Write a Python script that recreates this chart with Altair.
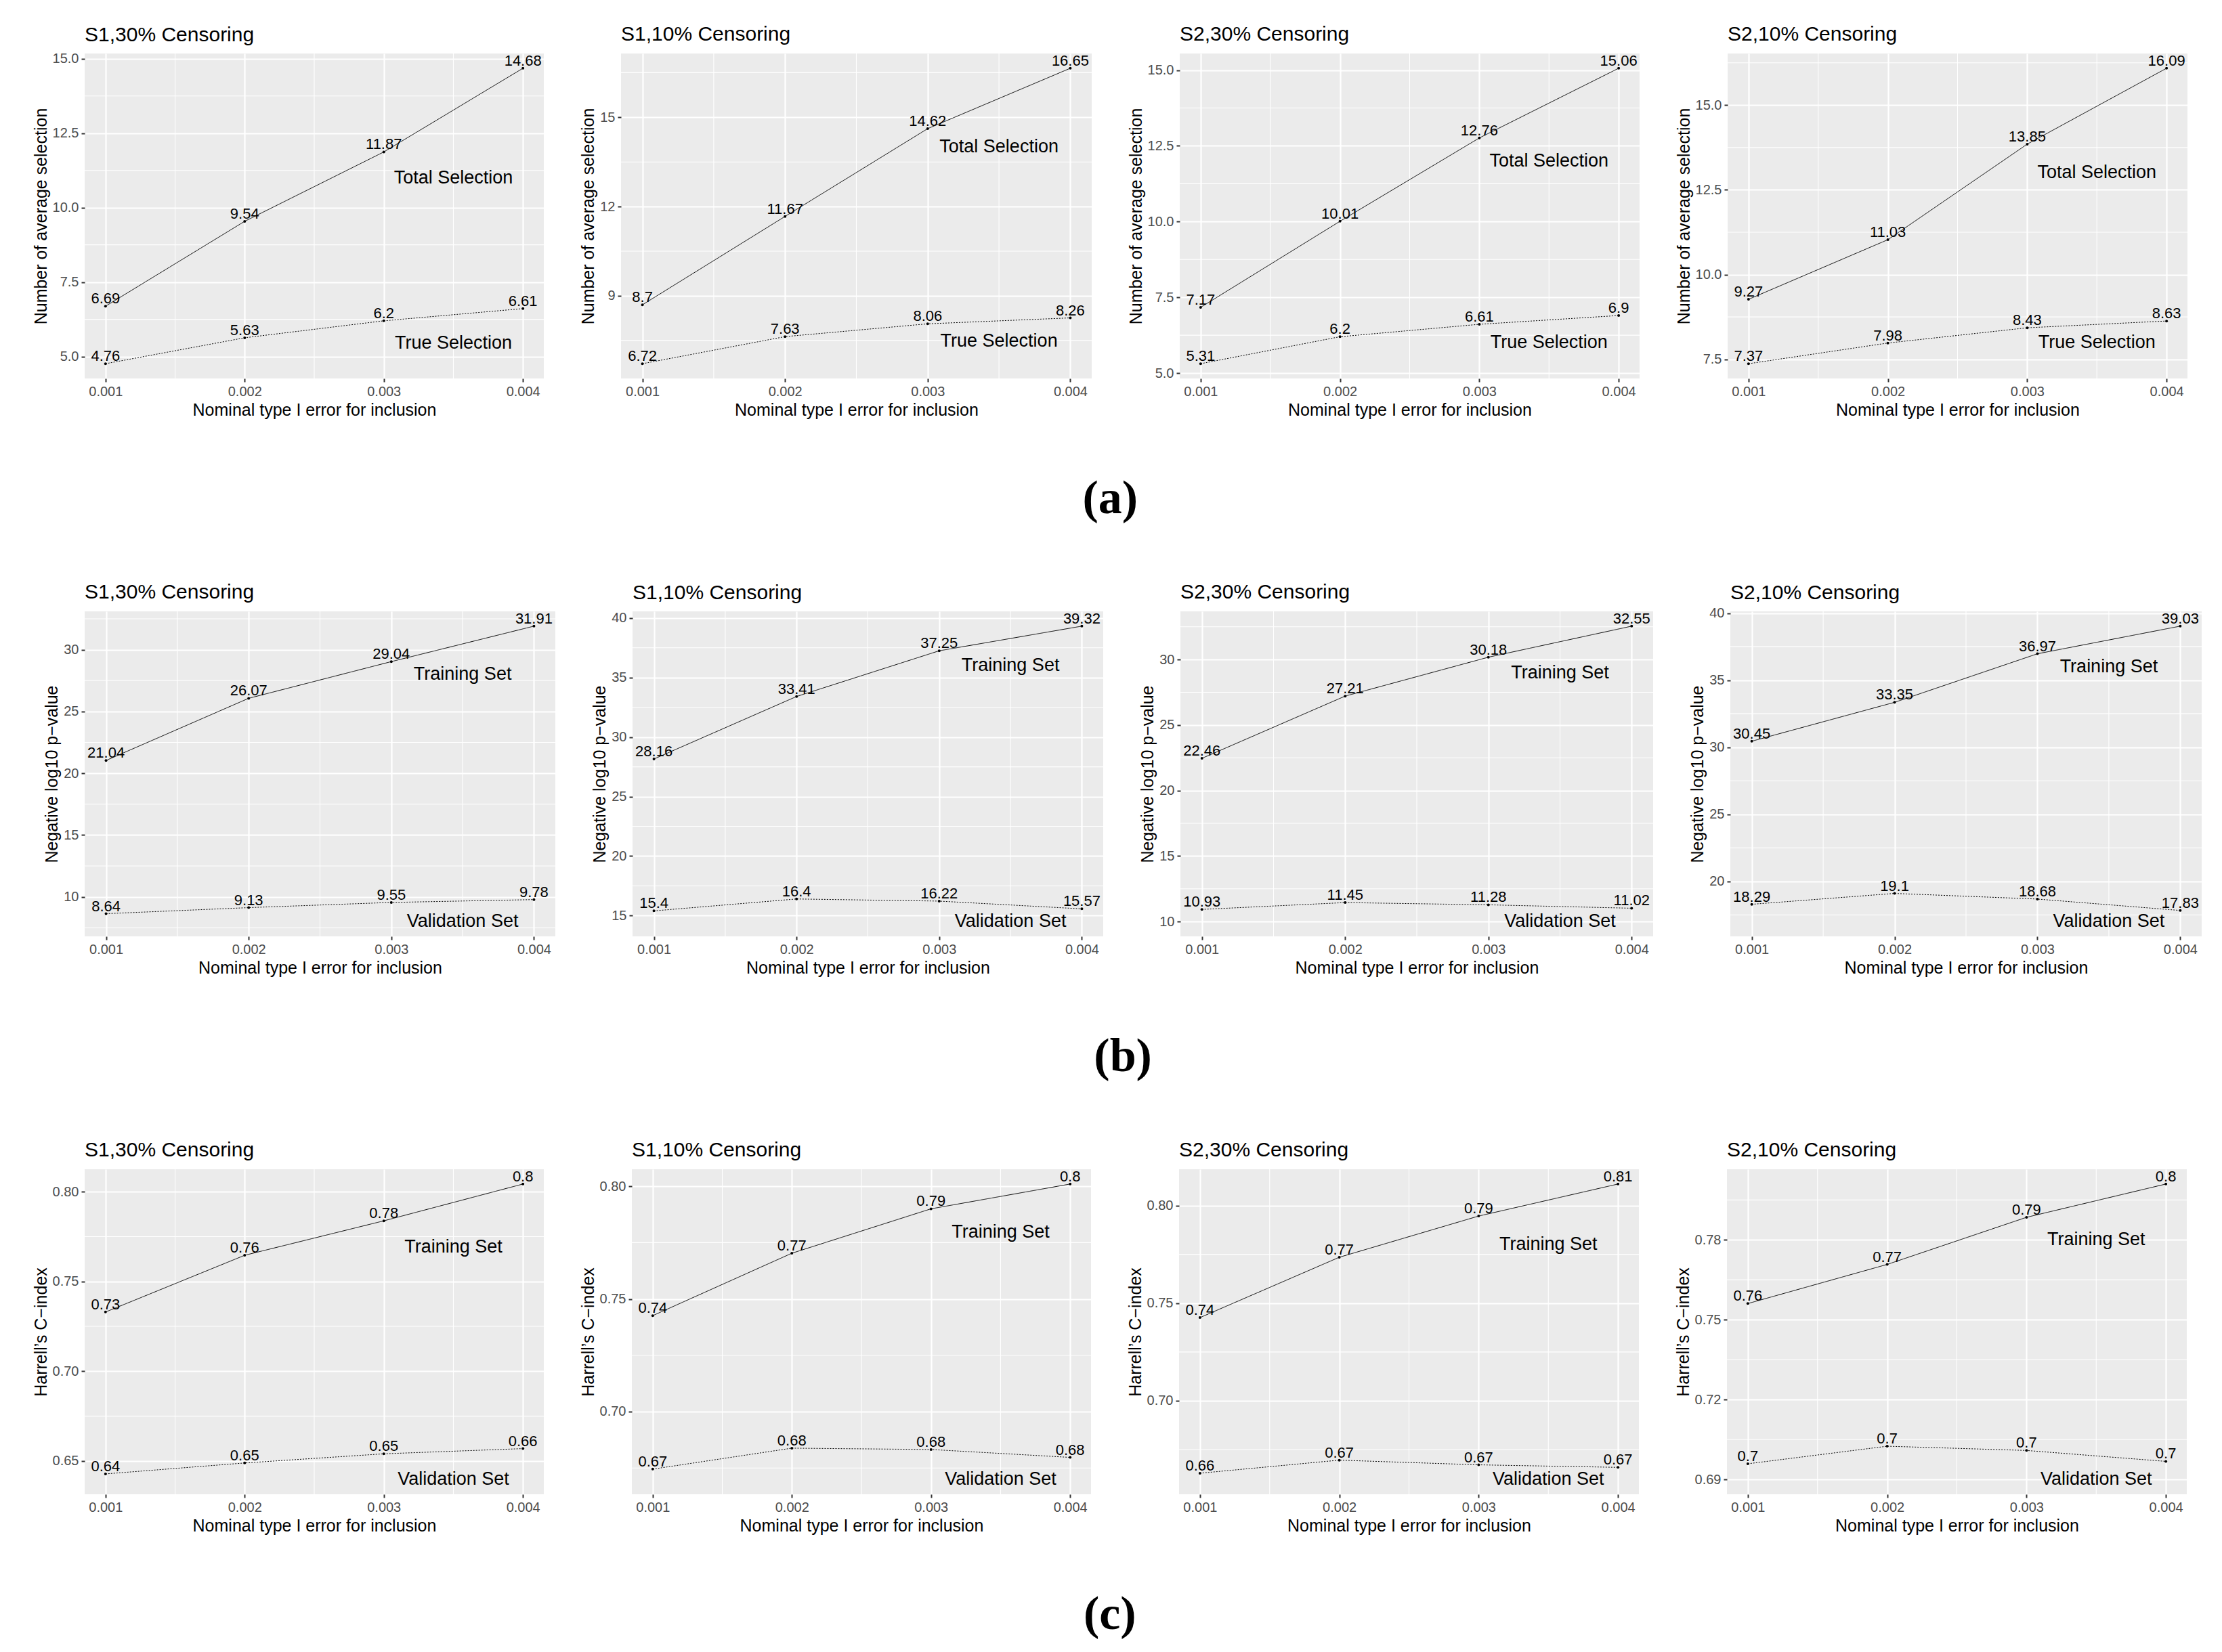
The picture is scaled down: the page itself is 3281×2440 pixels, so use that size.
import altair as alt
import pandas as pd

SANS = "Liberation Sans, Arial"

X_VALUES = [0.001, 0.002, 0.003, 0.004]
X_MINOR = [0.0015, 0.0025, 0.0035]
ANNOT_X = 0.0035
X_TITLE = "Nominal type I error for inclusion"

PANEL_TITLES = ["S1,30% Censoring", "S1,10% Censoring", "S2,30% Censoring", "S2,10% Censoring"]
ROW_YTITLES = ["Number of average selection", "Negative log10 p\u2212value", "Harrell\u2019s C\u2212index"]
ROW_SERIES = [("Total Selection", "True Selection"), ("Training Set", "Validation Set"),
              ("Training Set", "Validation Set")]
ROW_LABELS = ["(a)", "(b)", "(c)"]

# (a) number of average selection
A_TOTAL = [[6.69, 9.54, 11.87, 14.68], [8.7, 11.67, 14.62, 16.65],
           [7.17, 10.01, 12.76, 15.06], [9.27, 11.03, 13.85, 16.09]]
A_TRUE = [[4.76, 5.63, 6.2, 6.61], [6.72, 7.63, 8.06, 8.26],
          [5.31, 6.2, 6.61, 6.9], [7.37, 7.98, 8.43, 8.63]]
A_ANNOT_Y = [(11.0, 5.45), (14.0, 7.48), (12.0, 6.0), (13.0, 8.0)]
A_TICKS = [[5, 7.5, 10, 12.5, 15], [9, 12, 15], [5, 7.5, 10, 12.5, 15], [7.5, 10, 12.5, 15]]
A_FMT = [".1f", "d", ".1f", ".1f"]

# (b) negative log10 p-value
B_TRAIN = [[21.04, 26.07, 29.04, 31.91], [28.16, 33.41, 37.25, 39.32],
           [22.46, 27.21, 30.18, 32.55], [30.45, 33.35, 36.97, 39.03]]
B_VALID = [[8.64, 9.13, 9.55, 9.78], [15.4, 16.4, 16.22, 15.57],
           [10.93, 11.45, 11.28, 11.02], [18.29, 19.1, 18.68, 17.83]]
B_ANNOT_Y = [(28.0, 8.0), (36.0, 14.5), (29.0, 10.0), (36.0, 17.0)]
B_TICKS = [[10, 15, 20, 25, 30], [15, 20, 25, 30, 35, 40], [10, 15, 20, 25, 30], [20, 25, 30, 35, 40]]
B_FMT = ["d", "d", "d", "d"]

# (c) Harrell's C-index
C_TRAIN = [[0.733, 0.7646, 0.7838, 0.8043], [0.7426, 0.7703, 0.79, 0.801],
           [0.7426, 0.7735, 0.7946, 0.811], [0.7561, 0.7708, 0.7885, 0.801]]
C_VALID = [[0.6428, 0.6489, 0.654, 0.6569], [0.6745, 0.6838, 0.6832, 0.6797],
           [0.6629, 0.6696, 0.6672, 0.6659], [0.6959, 0.7025, 0.7009, 0.6968]]
C_ANNOT_Y = [(0.7692, 0.6397), (0.7795, 0.6699), (0.78, 0.6597), (0.78, 0.69)]
C_TICKS = [[0.65, 0.70, 0.75, 0.80], [0.70, 0.75, 0.80], [0.70, 0.75, 0.80], [0.69, 0.72, 0.75, 0.78]]
C_FMT = [".2f", ".2f", ".2f", ".2f"]

ROWS = [(A_TOTAL, A_TRUE, A_ANNOT_Y, A_TICKS, A_FMT),
        (B_TRAIN, B_VALID, B_ANNOT_Y, B_TICKS, B_FMT),
        (C_TRAIN, C_VALID, C_ANNOT_Y, C_TICKS, C_FMT)]

WIDTHS = [[678, 695, 679, 679], [695, 695, 698, 696], [678, 678, 679, 679]]
HEIGHT = 480
LABEL_FS = 20


def panel(title, names, y1, y2, ann, ticks, fmt, ytitle, w):
    s1, s2 = names
    df = pd.DataFrame({"x": X_VALUES * 2, "y": list(y1) + list(y2),
                       "series": [s1] * 4 + [s2] * 4})
    allv = list(y1) + list(y2) + list(ann)
    lo, hi = min(allv), max(allv)
    pad = 0.05 * (hi - lo)
    dom = [lo - pad, hi + pad]
    step = ticks[1] - ticks[0]
    minor = [t + step / 2 for t in [ticks[0] - step] + list(ticks)]
    minor = [m for m in minor if dom[0] < m < dom[1]]
    # keep the panel title fixed even when the top tick label pokes above the panel
    gap = (dom[1] - ticks[-1]) / (dom[1] - dom[0]) * HEIGHT
    title_dy = max(0.0, LABEL_FS / 2 - gap)

    xenc = alt.X("x:Q", scale=alt.Scale(domain=[0.00085, 0.00415], nice=False, zero=False),
                 axis=alt.Axis(values=X_VALUES, format=".3f", title=X_TITLE,
                               titleFontSize=25, titlePadding=5))
    yenc = alt.Y("y:Q", scale=alt.Scale(domain=dom, nice=False, zero=False),
                 axis=alt.Axis(values=ticks, format=fmt, title=ytitle,
                               titleFontSize=25, titlePadding=4))

    vminor = alt.Chart(pd.DataFrame({"x": X_MINOR})).mark_rule(
        color="white", strokeWidth=1.1).encode(x=xenc)
    hminor = alt.Chart(pd.DataFrame({"y": minor})).mark_rule(
        color="white", strokeWidth=1.1).encode(y=yenc)
    base = alt.Chart(df)
    line = base.mark_line(color="black", strokeWidth=1.0).encode(
        x=xenc, y=yenc,
        strokeDash=alt.StrokeDash("series:N", scale=alt.Scale(domain=[s1, s2], range=[[1, 0], [2, 2]]),
                                  legend=None),
        detail="series:N")
    pts = base.mark_circle(size=16, color="black", opacity=1).encode(x=xenc, y=yenc)
    lbl = base.mark_text(font=SANS, fontSize=22, color="black", baseline="alphabetic", dy=-4).encode(
        x=xenc, y=yenc, text=alt.Text("y:Q", format=".2~f"))
    adf = pd.DataFrame({"x": [ANNOT_X, ANNOT_X], "y": list(ann), "label": [s1, s2]})
    annot = alt.Chart(adf).mark_text(font=SANS, fontSize=27, color="black", baseline="middle").encode(
        x=xenc, y=yenc, text="label:N")
    return alt.layer(vminor, hminor, line, pts, lbl, annot).properties(
        width=w, height=HEIGHT,
        title=alt.TitleParams(title, anchor="start", frame="group", font=SANS, fontSize=30,
                              fontWeight="normal", color="black", offset=12, dy=title_dy))


rows = []
for r, (s1v, s2v, anns, ticks, fmts) in enumerate(ROWS):
    panels = [panel(PANEL_TITLES[k], ROW_SERIES[r], s1v[k], s2v[k], anns[k], ticks[k], fmts[k],
                    ROW_YTITLES[r], WIDTHS[r][k]) for k in range(4)]
    rows.append(alt.hconcat(*panels, spacing=52,
                            title=alt.TitleParams(ROW_LABELS[r], orient="bottom", anchor="middle",
                                                  font="Liberation Serif", fontSize=70, fontWeight="bold",
                                                  color="black", offset=85)))

chart = alt.vconcat(*rows, spacing=88).properties(
    padding={"left": 40, "top": 28, "right": 5, "bottom": 5}
).configure_view(fill="#EBEBEB", stroke=None).configure_axis(
    grid=True, gridColor="white", gridWidth=2.2, domain=False,
    tickColor="#333333", tickWidth=2, tickSize=5,
    labelColor="#4D4D4D", labelFont=SANS, labelFontSize=LABEL_FS, labelPadding=4,
    titleColor="black", titleFont=SANS, titleFontWeight="normal"
)

chart.save("out.html", embed_options={"renderer": "svg", "actions": False})
